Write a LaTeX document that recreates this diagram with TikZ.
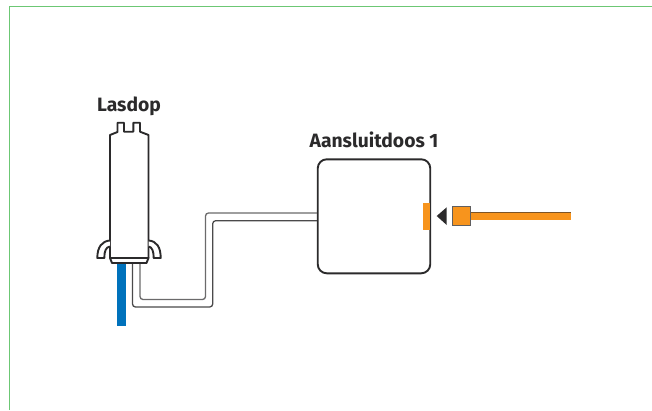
\documentclass[tikz,border=0pt]{standalone}
\usepackage{fontspec}
\setmainfont{Fira Sans}
\definecolor{frameg}{HTML}{6CC774}
\definecolor{inko}{HTML}{2B2A2B}
\definecolor{orangec}{HTML}{F7941D}
\definecolor{bluec}{HTML}{0072BC}
\tikzset{
  lbl/.style={inner sep=0pt,anchor=base,font=\fontsize{19.3pt}{21pt}\selectfont\bfseries,text=inko},
  outl/.style={draw=inko,line width=1.9pt,line join=round},
  cablea/.style={draw=inko!85,line width=1.3pt,rounded corners=3pt},
  cableb/.style={draw=inko!70,line width=1.3pt,rounded corners=3pt},
  boxn/.style={outl,rounded corners=9pt,minimum width=112.5pt,minimum height=114pt,inner sep=0pt,fill=white},
  orangef/.style={fill=orangec,draw=none},
}
\begin{document}
\begin{tikzpicture}[x=1pt,y=-1pt]
\useasboundingbox (0,0) rectangle (652,410);
\fill[white] (0,0) rectangle (652,410);
% frame
\draw[frameg,line width=1.6pt] (9.5,410) -- (9.5,6.5) -- (652,6.5);
% labels
\node[lbl] (lasdoptext) at (129,111) {Lasdop};
\node[lbl] (boxtext) at (374,147.5) {Aansluitdoos 1};
% connection box
\node[boxn] (box) at (374,216.3) {};
% orange connector
\node[orangef,minimum width=7pt,minimum height=27pt,inner sep=0pt] (socket) at (426.6,216) {};
\fill[inko] (436.7,216) -- (446.7,207.3) -- (446.7,225) -- cycle;
\node[fill=orangec,draw=inko!75,line width=1.3pt,minimum size=18.5pt,inner sep=0pt] (plug) at (461.5,216) {};
\coordinate (wireend) at (571,216);
\draw[draw=inko!60!orangec,line width=8.6pt] (plug.east) -- (wireend);
\draw[draw=orangec,line width=7pt] (plug.east) -- (wireend);
% blue wire
\coordinate (bluetop) at (121.7,262);
\coordinate (blueend) at (121.7,325.5);
\draw[bluec,line width=8.7pt] (bluetop) -- (blueend);
% cables
\coordinate (cA) at (132.5,263);
\coordinate (cB) at (140,263);
\draw[cablea] (cA) -- (132.5,307) -- (212.7,307) -- (212.7,220.7) -- (box.west |- 0,220.7);
\draw[cableb] (cB) -- (140,299.5) -- (205.5,299.5) -- (205.5,213) -- (box.west |- 0,213);
% splice cap
\draw[outl,fill=white] (110,258) -- (110,135) -- (117.5,132) -- (117.5,122.7) -- (124,122.7) -- (124,131.7) -- (133.3,131.7) -- (133.3,122.7) -- (140,122.7) -- (140,131.7) -- (148.5,135) -- (148.5,258);
\draw[outl,fill=white] (110,240.5) .. controls (102,241) and (97.3,247) .. (97.3,258) -- (104.3,258) .. controls (104.3,251) and (106,247) .. (110,246.5);
\draw[outl,fill=white] (148.5,240.5) .. controls (156.5,241) and (160.7,247) .. (160.7,258) -- (153.7,258) .. controls (153.7,251) and (152,247) .. (148.5,246.5);
\draw[outl,fill=white] (110,258) -- (148.5,258) -- (146.5,263) -- (112,263) -- cycle;
\end{tikzpicture}
\end{document}
